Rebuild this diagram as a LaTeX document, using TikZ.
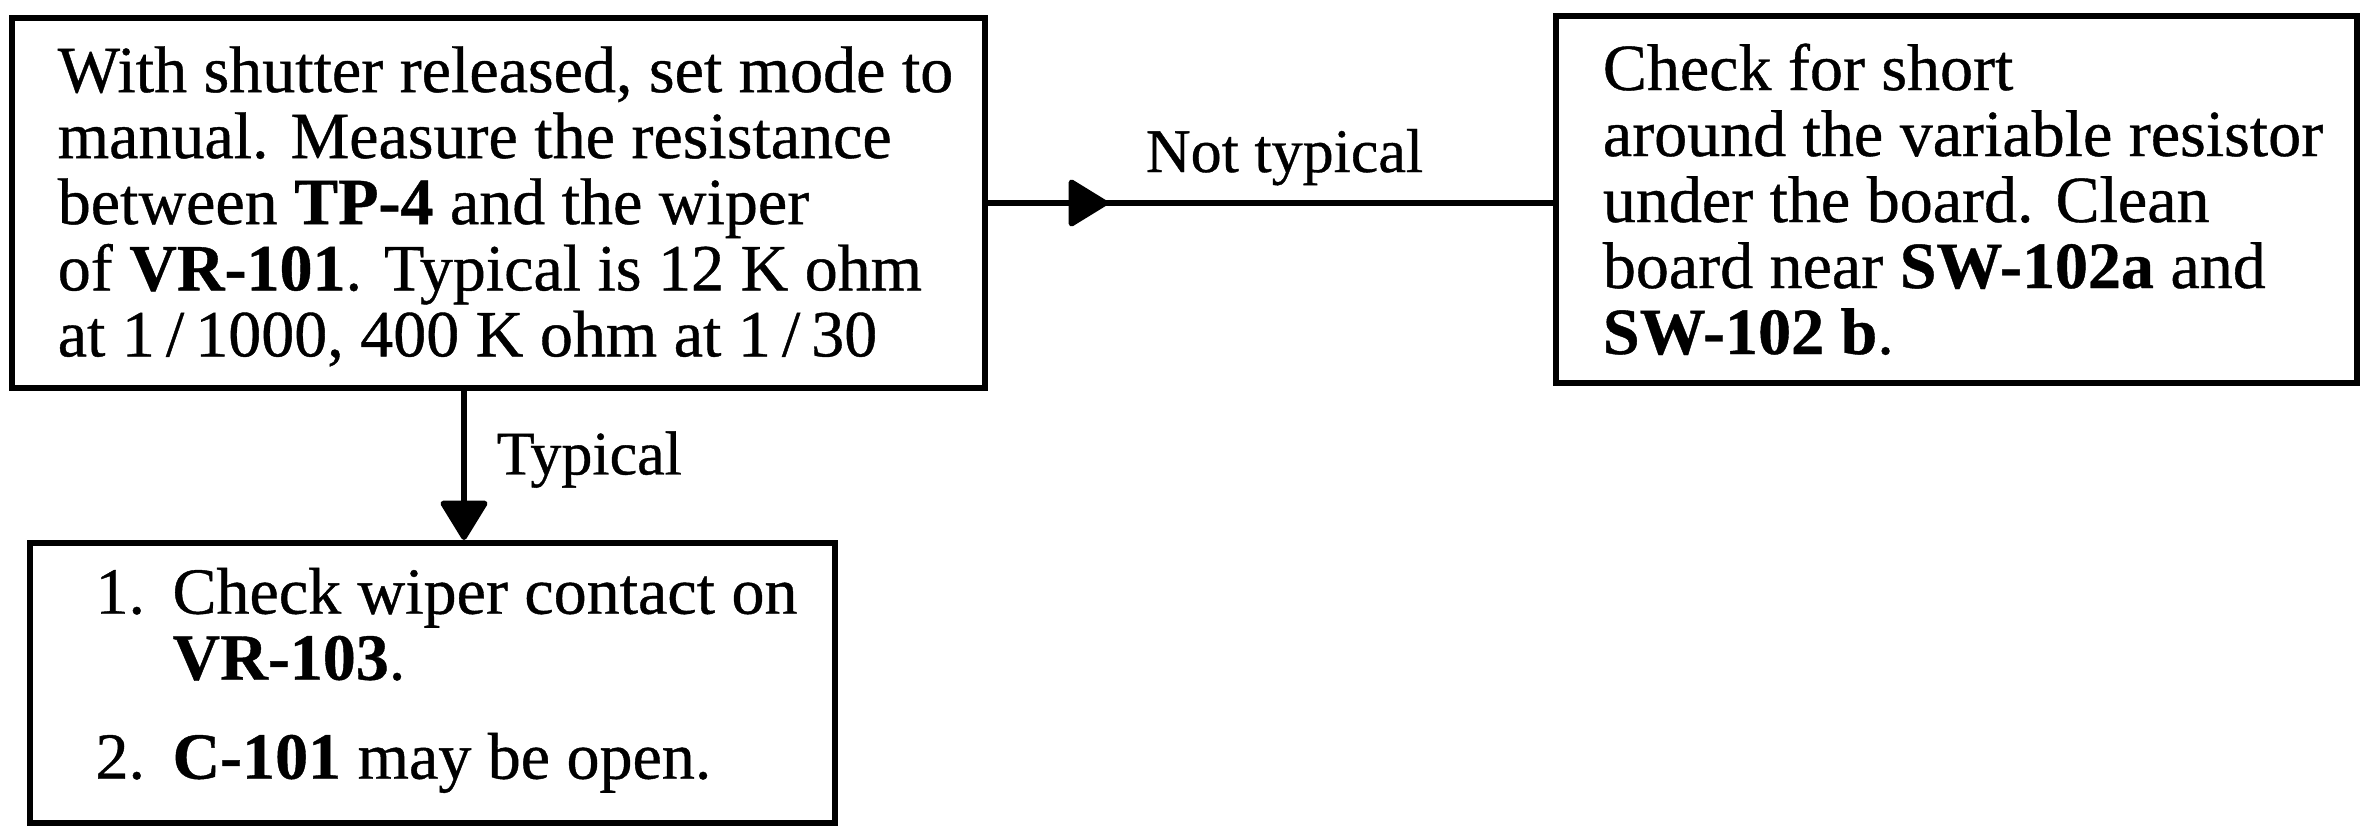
\documentclass[tikz,border=0pt]{standalone}
\usepackage{fontspec}
\setmainfont{Liberation Serif}[RawFeature={embolden=0.6}]
\usetikzlibrary{arrows.meta,decorations.markings}

% padded left-aligned block of lines
\newcommand{\padlines}[2]{\begin{tabular}{@{\hspace{#1}}l@{}}#2\end{tabular}}

\begin{document}
\begin{tikzpicture}[x=0.5pt,y=-0.5pt,
  box/.style={draw, line width=3pt, inner sep=0pt,
    font=\fontsize{33pt}{33pt}\selectfont},
  conn/.style={line width=2.8pt},
  lab/.style={font=\fontsize{31pt}{31pt}\selectfont, inner sep=0pt},
  headtip/.tip={Triangle[length=21pt,width=25pt,round]}]

\useasboundingbox (0,0) rectangle (2361,825);

% measurement step
\node[box, minimum width=486.5pt, minimum height=185pt] (b1) at (498.5,203)
  {\padlines{7pt}{\rule{0pt}{31.1pt}With shutter released, set mode to\\
   manual. Measure the resistance\\
   between \textbf{TP-4} and the wiper\\
   of \textbf{VR-101}. Typical is 12 K ohm\\
   at 1\,/\,1000, 400 K ohm at 1\,/\,30}};

% fault branch
\node[box, minimum width=400.5pt, minimum height=183.5pt] (b2) at (1956.5,199.5)
  {\padlines{6.5pt}{\rule{0pt}{32.4pt}Check for short\\
   around the variable resistor\\
   under the board. Clean\\
   board near \textbf{SW-102a} and\\
   \textbf{SW-102 b}.}};

% normal branch
\node[box, minimum width=402.5pt, minimum height=140pt] (b3) at (432.5,683)
  {\padlines{14pt}{\makebox[38.5pt][l]{1.}Check wiper contact on\\
   \hspace*{38.5pt}\textbf{VR-103}.\\[16.5pt]
   \makebox[38.5pt][l]{2.}\textbf{C-101} may be open.}};

% connectors
\draw[conn, postaction={decorate},
      decoration={markings, mark=at position 60pt with {\arrow{headtip}}}]
  (b1.east) -- node (lnt) [lab, anchor=base, xshift=7pt, yshift=15.5pt] {Not typical}
  (b1.east -| b2.west);

\draw[conn, -headtip]
  ([xshift=-17.25pt]b1.south) -- node (lt) [lab, pos=0.56, anchor=base west, xshift=15pt] {Typical}
  ([xshift=-17.25pt]b1.south |- b3.north);

\end{tikzpicture}
\end{document}
